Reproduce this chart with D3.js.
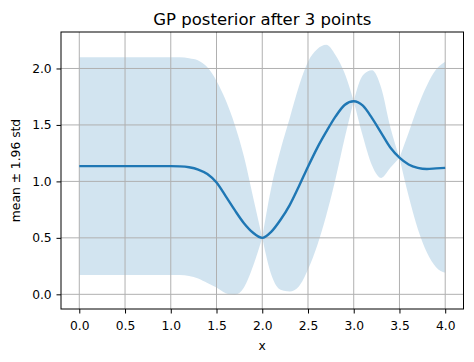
<!DOCTYPE html>
<html>
<head>
<meta charset="utf-8">
<script src="https://cdn.jsdelivr.net/npm/d3@7"></script>
<style>
  body { margin: 0; background: #fff; }
  svg { display: block; font-family: "DejaVu Sans", sans-serif; }
</style>
</head>
<body>
<div id="chart"></div>
<script>
// sample positions along x
const xs = [0.0, 0.1, 0.2, 0.3, 0.4, 0.5, 0.6, 0.7, 0.8, 0.9,
            1.0, 1.1, 1.2, 1.3, 1.4, 1.5, 1.6, 1.7, 1.8, 1.9,
            2.0, 2.1, 2.2, 2.3, 2.4, 2.5, 2.6, 2.7, 2.8, 2.9,
            3.0, 3.1, 3.2, 3.3, 3.4, 3.5, 3.6, 3.7, 3.8, 3.9, 4.0];

// posterior mean
const mean = [1.135, 1.135, 1.135, 1.135, 1.135, 1.135, 1.135, 1.135, 1.135, 1.135,
              1.135, 1.133, 1.125, 1.105, 1.065, 0.99, 0.87, 0.745, 0.63, 0.545,
              0.50, 0.555, 0.66, 0.79, 0.955, 1.13, 1.295, 1.44, 1.573, 1.677,
              1.71, 1.67, 1.56, 1.43, 1.30, 1.21, 1.15, 1.12, 1.11, 1.115, 1.12];

// mean + 1.96 std
const upper = [2.10, 2.10, 2.10, 2.10, 2.10, 2.10, 2.10, 2.10, 2.10, 2.10,
               2.10, 2.10, 2.09, 2.07, 2.01, 1.89, 1.72, 1.50, 1.22, 0.86,
               0.50, 0.95, 1.28, 1.56, 1.84, 2.06, 2.17, 2.21, 2.12, 1.96,
               1.71, 1.94, 1.985, 1.83, 1.48, 1.21, 1.43, 1.66, 1.85, 1.99, 2.06];

// mean - 1.96 std
const lower = [0.17, 0.17, 0.17, 0.17, 0.17, 0.17, 0.17, 0.17, 0.17, 0.17,
               0.17, 0.17, 0.162, 0.14, 0.10, 0.06, 0.01, -0.005, 0.06, 0.25,
               0.50, 0.17, 0.04, 0.025, 0.07, 0.22, 0.43, 0.70, 1.02, 1.38,
               1.71, 1.40, 1.14, 1.03, 1.12, 1.21, 0.87, 0.58, 0.37, 0.24, 0.19];

// x of the observed points (band pinches there)
const observedX = [2.0, 3.0, 3.5];

const xTicks = [0, 0.5, 1, 1.5, 2, 2.5, 3, 3.5, 4];
const yTicks = [0, 0.5, 1, 1.5, 2];

const width = 474, height = 362;
const margin = {top: 32, right: 10.5, bottom: 53, left: 61};
const innerW = width - margin.left - margin.right;
const innerH = height - margin.top - margin.bottom;

const data = xs.map((x, i) => ({x: x, m: mean[i], hi: upper[i], lo: lower[i]}));

const x = d3.scaleLinear().domain([-0.2, 4.2]).range([0, innerW]);
const y = d3.scaleLinear().domain([-0.13, 2.323]).range([innerH, 0]);

const svg = d3.select('#chart').append('svg')
    .attr('width', width)
    .attr('height', height);

const g = svg.append('g')
    .attr('transform', 'translate(' + margin.left + ',' + margin.top + ')');

// band, one piece between each pair of pinch points so the cusps stay sharp
const cuts = [xs[0]].concat(observedX, [xs[xs.length - 1]]);
const band = d3.area()
    .curve(d3.curveMonotoneX)
    .x(d => x(d.x))
    .y0(d => y(d.lo))
    .y1(d => y(d.hi));

for (let k = 0; k < cuts.length - 1; k++) {
    const seg = data.filter(d => d.x >= cuts[k] - 1e-9 && d.x <= cuts[k + 1] + 1e-9);
    g.append('path')
        .attr('d', band(seg))
        .attr('fill', '#1f77b4')
        .attr('fill-opacity', 0.2);
}

// grid
g.append('g')
    .selectAll('line')
    .data(xTicks)
    .join('line')
    .attr('x1', d => x(d)).attr('x2', d => x(d))
    .attr('y1', 0).attr('y2', innerH)
    .attr('stroke', '#b0b0b0')
    .attr('stroke-width', 1);

g.append('g')
    .selectAll('line')
    .data(yTicks)
    .join('line')
    .attr('x1', 0).attr('x2', innerW)
    .attr('y1', d => y(d)).attr('y2', d => y(d))
    .attr('stroke', '#b0b0b0')
    .attr('stroke-width', 1);

// mean line
const line = d3.line()
    .curve(d3.curveMonotoneX)
    .x(d => x(d.x))
    .y(d => y(d.m));

g.append('path')
    .attr('d', line(data))
    .attr('fill', 'none')
    .attr('stroke', '#1f77b4')
    .attr('stroke-width', 2.4)
    .attr('stroke-linejoin', 'round');

// axes
const fmt = d3.format('.1f');

const xAxis = g.append('g')
    .attr('transform', 'translate(0,' + innerH + ')')
    .call(d3.axisBottom(x).tickValues(xTicks).tickFormat(fmt).tickSize(4.5).tickPadding(7.5).tickSizeOuter(0));

const yAxis = g.append('g')
    .call(d3.axisLeft(y).tickValues(yTicks).tickFormat(fmt).tickSize(4.5).tickPadding(4.8).tickSizeOuter(0));

[xAxis, yAxis].forEach(a => {
    a.select('.domain').remove();
    a.selectAll('line').attr('stroke', '#000').attr('stroke-width', 1);
    a.selectAll('text')
        .attr('fill', '#000')
        .style('font-size', '12.3px')
        .style('font-family', '"DejaVu Sans", sans-serif');
});

// frame
g.append('rect')
    .attr('x', 0).attr('y', 0)
    .attr('width', innerW).attr('height', innerH)
    .attr('fill', 'none')
    .attr('stroke', '#000')
    .attr('stroke-width', 1);

// title and labels
svg.append('text')
    .attr('x', margin.left + innerW / 2)
    .attr('y', 25)
    .attr('text-anchor', 'middle')
    .style('font-size', '16.5px')
    .text('GP posterior after 3 points');

svg.append('text')
    .attr('x', margin.left + innerW / 2)
    .attr('y', 350)
    .attr('text-anchor', 'middle')
    .style('font-size', '12.3px')
    .text('x');

svg.append('text')
    .attr('transform', 'translate(20,' + (margin.top + innerH / 2) + ') rotate(-90)')
    .attr('text-anchor', 'middle')
    .style('font-size', '12.3px')
    .text('mean ± 1.96 std');
</script>
</body>
</html>
